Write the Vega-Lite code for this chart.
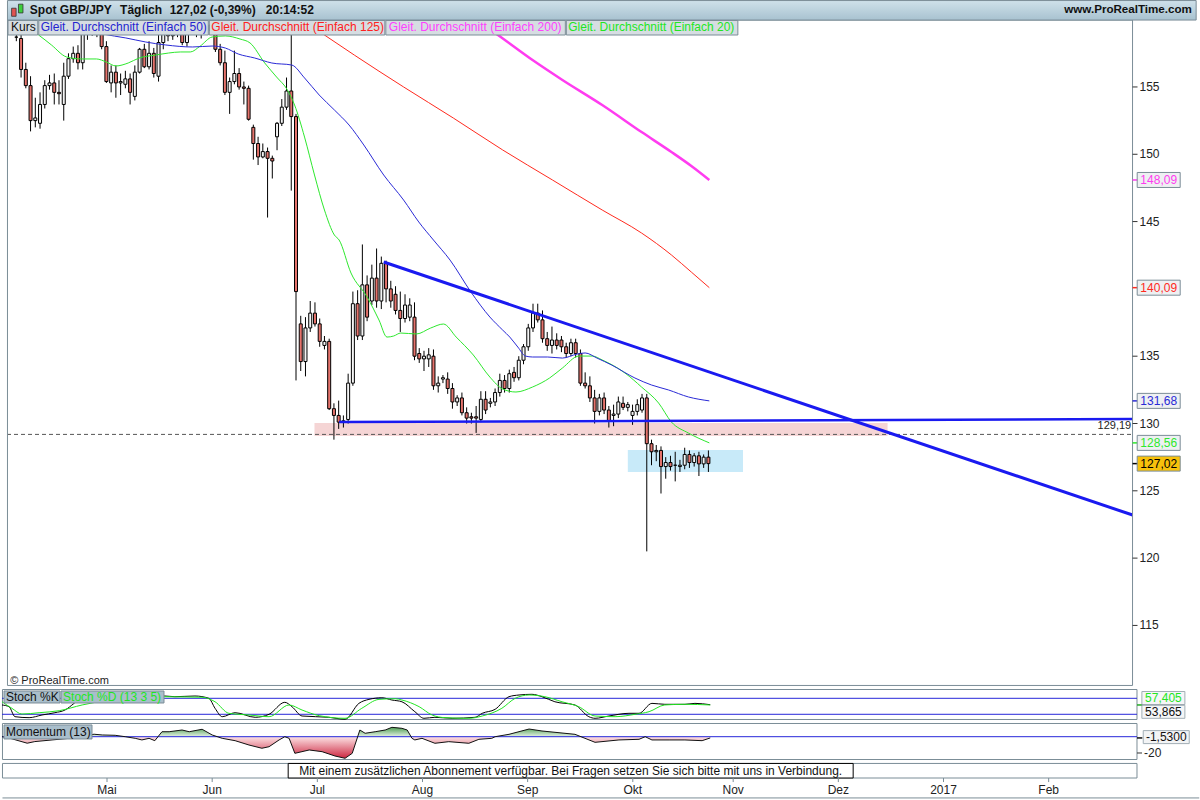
{
"$schema": "https://vega.github.io/schema/vega-lite/v6.json",
"padding": 0,
"background": "white",
"spacing": 3,
"bounds": "flush",
"config": {"view": {"stroke": null}, "font": "Liberation Sans", "text": {"font": "Liberation Sans"}},
"resolve": {"scale": {"x": "independent", "y": "independent", "color": "independent"}},
"datasets": {
"candles": [
{"i":-20,"o":158.7,"h":159.1,"l":158.4,"c":158.7},{"i":-19,"o":158.6,"h":158.9,"l":155.7,"c":156.3},{"i":-18,"o":156.3,"h":156.8,"l":154.9,"c":155.1},{"i":-17,"o":155.1,"h":155.8,"l":151.7,"c":152.5},{"i":-16,"o":152.5,"h":154.2,"l":152.0,"c":152.7},{"i":-15,"o":152.3,"h":154.6,"l":151.9,"c":153.7},{"i":-14,"o":153.7,"h":155.5,"l":153.4,"c":155.1},{"i":-13,"o":155.1,"h":155.9,"l":154.8,"c":155.3},{"i":-12,"o":155.3,"h":156.0,"l":153.7,"c":154.6},{"i":-11,"o":154.6,"h":155.5,"l":153.7,"c":154.5},{"i":-10,"o":153.7,"h":156.8,"l":152.5,"c":155.8},{"i":-9,"o":155.8,"h":157.5,"l":155.6,"c":157.1},{"i":-8,"o":157.1,"h":158.0,"l":156.8,"c":157.5},{"i":-7,"o":157.5,"h":158.1,"l":156.3,"c":156.8},{"i":-6,"o":156.8,"h":159.8,"l":156.3,"c":159.0},{"i":-5,"o":159.0,"h":160.0,"l":158.5,"c":159.5},{"i":-4,"o":159.5,"h":160.0,"l":158.8,"c":159.2},{"i":-3,"o":159.2,"h":160.0,"l":158.7,"c":159.6},{"i":-2,"o":159.6,"h":159.9,"l":157.8,"c":158.0},{"i":-1,"o":158.0,"h":158.4,"l":155.3,"c":155.4},
{"i":0,"o":155.3,"h":156.6,"l":154.6,"c":156.1},{"i":1,"o":156.1,"h":156.6,"l":154.2,"c":155.3},{"i":2,"o":155.3,"h":156.0,"l":154.4,"c":155.4},{"i":3,"o":155.2,"h":156.2,"l":154.9,"c":155.6},{"i":4,"o":155.6,"h":156.0,"l":153.7,"c":154.6},{"i":5,"o":154.3,"h":156.6,"l":154.0,"c":156.1},{"i":6,"o":156.1,"h":157.9,"l":156.0,"c":157.8},{"i":7,"o":157.8,"h":158.2,"l":156.4,"c":156.5},{"i":8,"o":156.5,"h":158.4,"l":156.3,"c":157.5},{"i":9,"o":157.5,"h":157.9,"l":155.7,"c":156.0},{"i":10,"o":155.8,"h":159.0,"l":155.4,"c":158.3},{"i":11,"o":158.3,"h":159.8,"l":157.8,"c":159.2},{"i":12,"o":159.2,"h":159.9,"l":158.4,"c":158.8},{"i":13,"o":158.8,"h":160.0,"l":158.5,"c":159.5},{"i":14,"o":159.5,"h":160.0,"l":158.7,"c":159.0},{"i":15,"o":159.2,"h":159.8,"l":158.1,"c":158.3},{"i":16,"o":158.3,"h":159.6,"l":158.0,"c":159.3},{"i":17,"o":159.3,"h":160.0,"l":158.9,"c":159.6},{"i":18,"o":159.6,"h":160.0,"l":158.7,"c":159.0},{"i":19,"o":159.0,"h":159.9,"l":158.6,"c":159.5},
{"i":20,"o":159.5,"h":160.0,"l":158.9,"c":159.2},{"i":21,"o":159.2,"h":160.0,"l":158.9,"c":159.6},{"i":22,"o":159.5,"h":160.0,"l":157.6,"c":157.8},{"i":23,"o":157.8,"h":158.2,"l":156.6,"c":156.8},{"i":24,"o":156.8,"h":157.7,"l":154.4,"c":154.6},{"i":25,"o":154.6,"h":155.7,"l":153.0,"c":155.4},{"i":26,"o":155.4,"h":157.7,"l":155.2,"c":156.0},{"i":27,"o":156.0,"h":156.4,"l":154.8,"c":155.0},{"i":28,"o":155.0,"h":155.4,"l":153.7,"c":154.9},{"i":29,"o":154.9,"h":155.1,"l":152.5,"c":152.6},{"i":30,"o":152.0,"h":152.2,"l":149.6,"c":150.8},{"i":31,"o":150.8,"h":151.3,"l":149.2,"c":149.8},{"i":32,"o":149.8,"h":150.8,"l":149.7,"c":150.2},{"i":33,"o":150.2,"h":150.5,"l":145.3,"c":149.7},{"i":34,"o":149.7,"h":149.9,"l":148.2,"c":149.5},{"i":35,"o":151.3,"h":152.4,"l":150.3,"c":152.3},{"i":36,"o":152.3,"h":154.1,"l":152.1,"c":153.5},{"i":37,"o":153.5,"h":155.7,"l":153.3,"c":154.7},{"i":38,"o":154.7,"h":159.0,"l":147.3,"c":152.8},{"i":39,"o":152.8,"h":153.0,"l":133.2,"c":139.8},
{"i":40,"o":137.4,"h":138.0,"l":133.9,"c":134.6},{"i":41,"o":134.6,"h":137.9,"l":133.5,"c":137.1},{"i":42,"o":137.1,"h":139.1,"l":136.8,"c":138.2},{"i":43,"o":138.2,"h":139.0,"l":137.2,"c":137.4},{"i":44,"o":137.4,"h":137.8,"l":135.7,"c":136.1},{"i":45,"o":135.8,"h":136.5,"l":135.5,"c":136.1},{"i":46,"o":136.1,"h":136.3,"l":131.0,"c":131.1},{"i":47,"o":131.1,"h":131.5,"l":128.8,"c":130.6},{"i":48,"o":130.6,"h":131.7,"l":129.6,"c":130.1},{"i":49,"o":130.1,"h":130.6,"l":129.7,"c":130.2},{"i":50,"o":130.3,"h":133.7,"l":130.0,"c":133.0},{"i":51,"o":133.0,"h":139.8,"l":132.8,"c":138.9},{"i":52,"o":138.9,"h":139.9,"l":136.2,"c":136.5},{"i":53,"o":136.5,"h":143.3,"l":136.2,"c":140.3},{"i":54,"o":140.3,"h":141.0,"l":137.6,"c":137.9},{"i":55,"o":139.1,"h":141.8,"l":138.8,"c":140.8},{"i":56,"o":140.8,"h":143.0,"l":138.6,"c":139.1},{"i":57,"o":139.1,"h":142.4,"l":138.5,"c":141.9},{"i":58,"o":141.9,"h":142.1,"l":139.0,"c":140.0},{"i":59,"o":140.0,"h":140.6,"l":138.6,"c":139.1},
{"i":60,"o":139.6,"h":140.2,"l":138.1,"c":138.4},{"i":61,"o":138.4,"h":139.8,"l":136.8,"c":137.8},{"i":62,"o":137.8,"h":139.6,"l":137.5,"c":138.8},{"i":63,"o":137.9,"h":139.3,"l":137.6,"c":138.8},{"i":64,"o":137.9,"h":139.0,"l":134.7,"c":135.0},{"i":65,"o":135.2,"h":135.6,"l":134.5,"c":134.8},{"i":66,"o":134.8,"h":135.4,"l":133.9,"c":135.0},{"i":67,"o":134.8,"h":135.6,"l":134.2,"c":135.1},{"i":68,"o":135.0,"h":135.5,"l":132.5,"c":132.8},{"i":69,"o":132.8,"h":133.5,"l":132.3,"c":133.0},{"i":70,"o":133.3,"h":133.6,"l":133.0,"c":133.4},{"i":71,"o":133.3,"h":133.8,"l":132.2,"c":132.6},{"i":72,"o":132.6,"h":133.0,"l":131.1,"c":131.6},{"i":73,"o":131.6,"h":132.1,"l":131.3,"c":131.9},{"i":74,"o":131.9,"h":132.3,"l":130.6,"c":130.8},{"i":75,"o":130.8,"h":131.2,"l":130.0,"c":130.4},{"i":76,"o":130.5,"h":130.8,"l":130.0,"c":130.4},{"i":77,"o":130.5,"h":131.3,"l":129.3,"c":130.4},{"i":78,"o":130.3,"h":132.4,"l":130.1,"c":131.8},{"i":79,"o":131.8,"h":132.4,"l":130.7,"c":131.0},
{"i":80,"o":131.5,"h":131.9,"l":131.2,"c":131.6},{"i":81,"o":131.6,"h":132.6,"l":131.3,"c":132.3},{"i":82,"o":132.3,"h":133.7,"l":132.0,"c":133.2},{"i":83,"o":133.2,"h":133.6,"l":132.3,"c":132.6},{"i":84,"o":132.6,"h":134.0,"l":132.3,"c":133.7},{"i":85,"o":133.8,"h":134.2,"l":133.1,"c":133.4},{"i":86,"o":133.4,"h":135.0,"l":133.2,"c":134.7},{"i":87,"o":134.7,"h":135.9,"l":134.4,"c":135.7},{"i":88,"o":135.7,"h":137.4,"l":135.4,"c":137.1},{"i":89,"o":137.1,"h":138.9,"l":136.8,"c":138.2},{"i":90,"o":138.2,"h":138.9,"l":137.5,"c":137.7},{"i":91,"o":137.7,"h":138.4,"l":136.0,"c":136.3},{"i":92,"o":136.3,"h":136.8,"l":135.4,"c":135.8},{"i":93,"o":135.8,"h":137.2,"l":135.2,"c":136.2},{"i":94,"o":136.2,"h":136.7,"l":135.5,"c":135.8},{"i":95,"o":136.2,"h":136.5,"l":135.3,"c":135.7},{"i":96,"o":135.7,"h":136.0,"l":134.9,"c":135.2},{"i":97,"o":135.2,"h":136.3,"l":135.0,"c":136.0},{"i":98,"o":136.0,"h":136.3,"l":134.9,"c":135.2},{"i":99,"o":135.2,"h":135.5,"l":132.8,"c":133.0},
{"i":100,"o":133.0,"h":133.8,"l":132.6,"c":132.8},{"i":101,"o":132.8,"h":133.5,"l":131.6,"c":131.9},{"i":102,"o":131.9,"h":132.5,"l":130.0,"c":130.9},{"i":103,"o":130.9,"h":132.2,"l":130.6,"c":131.9},{"i":104,"o":131.9,"h":132.3,"l":130.7,"c":131.0},{"i":105,"o":131.0,"h":131.3,"l":129.7,"c":130.2},{"i":106,"o":130.6,"h":131.4,"l":129.8,"c":130.7},{"i":107,"o":130.7,"h":132.0,"l":130.4,"c":131.6},{"i":108,"o":131.5,"h":132.0,"l":131.0,"c":131.2},{"i":109,"o":131.2,"h":131.6,"l":130.9,"c":131.4},{"i":110,"o":130.6,"h":131.4,"l":129.9,"c":130.9},{"i":111,"o":130.9,"h":131.8,"l":130.6,"c":131.4},{"i":112,"o":131.0,"h":132.2,"l":130.8,"c":131.9},{"i":113,"o":131.9,"h":132.2,"l":120.5,"c":128.5},{"i":114,"o":128.5,"h":128.8,"l":126.9,"c":127.9},{"i":115,"o":127.9,"h":128.4,"l":127.2,"c":128.0},{"i":116,"o":128.0,"h":128.3,"l":124.8,"c":126.8},{"i":117,"o":126.8,"h":127.5,"l":125.9,"c":127.1},{"i":118,"o":127.1,"h":127.6,"l":126.5,"c":126.8},{"i":119,"o":126.9,"h":127.9,"l":125.7,"c":126.9},
{"i":120,"o":126.8,"h":127.3,"l":126.4,"c":126.9},{"i":121,"o":126.9,"h":128.2,"l":126.6,"c":127.7},{"i":122,"o":127.7,"h":128.0,"l":126.7,"c":127.1},{"i":123,"o":127.1,"h":127.8,"l":126.8,"c":127.6},{"i":124,"o":127.6,"h":127.9,"l":126.1,"c":127.0},{"i":125,"o":127.0,"h":127.7,"l":126.7,"c":127.5},{"i":126,"o":127.5,"h":128.0,"l":126.4,"c":127.02}
],
"ma": [
{"s":"SMA20","i":-17.8,"v":159.45},{"s":"SMA20","i":-15.3,"v":158.86},{"s":"SMA20","i":-12.6,"v":158.12},{"s":"SMA20","i":-9.4,"v":157.23},{"s":"SMA20","i":-6.3,"v":157.08},{"s":"SMA20","i":-3.1,"v":157.08},{"s":"SMA20","i":-1.0,"v":156.85},{"s":"SMA20","i":1.0,"v":156.56},{"s":"SMA20","i":3.6,"v":156.78},{"s":"SMA20","i":5.9,"v":157.15},{"s":"SMA20","i":9.4,"v":157.37},{"s":"SMA20","i":12.1,"v":157.52},{"s":"SMA20","i":14.6,"v":157.6},{"s":"SMA20","i":16.7,"v":157.6},{"s":"SMA20","i":18.8,"v":158.04},{"s":"SMA20","i":21.3,"v":158.71},{"s":"SMA20","i":24.1,"v":158.79},{"s":"SMA20","i":27.2,"v":158.56},{"s":"SMA20","i":29.3,"v":158.27},{"s":"SMA20","i":32.4,"v":156.78},{"s":"SMA20","i":34.9,"v":155.74},{"s":"SMA20","i":37.2,"v":154.77},{"s":"SMA20","i":38.7,"v":153.66},{"s":"SMA20","i":40.8,"v":151.28},{"s":"SMA20","i":42.9,"v":148.46},{"s":"SMA20","i":45.0,"v":145.86},{"s":"SMA20","i":47.1,"v":144.0},{"s":"SMA20","i":48.1,"v":143.63},{"s":"SMA20","i":50.6,"v":141.18},{"s":"SMA20","i":54.0,"v":139.4},{"s":"SMA20","i":56.5,"v":137.69},{"s":"SMA20","i":58.2,"v":136.42},{"s":"SMA20","i":59.6,"v":136.5},{"s":"SMA20","i":61.1,"v":136.72},{"s":"SMA20","i":64.4,"v":136.65},{"s":"SMA20","i":67.4,"v":137.09},{"s":"SMA20","i":70.1,"v":137.39},{"s":"SMA20","i":72.8,"v":136.42},{"s":"SMA20","i":76.4,"v":135.09},{"s":"SMA20","i":79.9,"v":133.45},{"s":"SMA20","i":82.6,"v":132.56},{"s":"SMA20","i":85.4,"v":132.34},{"s":"SMA20","i":88.9,"v":132.71},{"s":"SMA20","i":92.5,"v":133.38},{"s":"SMA20","i":95.2,"v":134.12},{"s":"SMA20","i":98.7,"v":135.01},{"s":"SMA20","i":101.5,"v":135.01},{"s":"SMA20","i":103.6,"v":134.72},{"s":"SMA20","i":108.4,"v":133.75},{"s":"SMA20","i":111.9,"v":132.71},{"s":"SMA20","i":115.5,"v":131.52},{"s":"SMA20","i":118.2,"v":130.11},{"s":"SMA20","i":121.8,"v":129.29},{"s":"SMA20","i":126.2,"v":128.56},
{"s":"SMA50","i":-5.2,"v":159.23},{"s":"SMA50","i":-1.7,"v":158.93},{"s":"SMA50","i":3.1,"v":158.64},{"s":"SMA50","i":7.3,"v":158.34},{"s":"SMA50","i":11.5,"v":158.12},{"s":"SMA50","i":17.2,"v":157.97},{"s":"SMA50","i":21.3,"v":158.04},{"s":"SMA50","i":24.1,"v":157.89},{"s":"SMA50","i":26.8,"v":157.45},{"s":"SMA50","i":30.3,"v":157.15},{"s":"SMA50","i":33.9,"v":156.78},{"s":"SMA50","i":38.1,"v":156.63},{"s":"SMA50","i":40.8,"v":155.67},{"s":"SMA50","i":43.9,"v":154.4},{"s":"SMA50","i":47.1,"v":153.29},{"s":"SMA50","i":50.2,"v":152.17},{"s":"SMA50","i":53.3,"v":150.69},{"s":"SMA50","i":57.5,"v":148.46},{"s":"SMA50","i":61.7,"v":146.6},{"s":"SMA50","i":64.9,"v":144.97},{"s":"SMA50","i":68.0,"v":143.63},{"s":"SMA50","i":71.5,"v":142.14},{"s":"SMA50","i":75.9,"v":139.77},{"s":"SMA50","i":79.9,"v":137.91},{"s":"SMA50","i":82.6,"v":136.94},{"s":"SMA50","i":84.1,"v":136.42},{"s":"SMA50","i":85.8,"v":135.68},{"s":"SMA50","i":87.4,"v":135.01},{"s":"SMA50","i":88.9,"v":134.94},{"s":"SMA50","i":92.1,"v":134.94},{"s":"SMA50","i":95.2,"v":134.86},{"s":"SMA50","i":98.3,"v":135.16},{"s":"SMA50","i":100.0,"v":135.24},{"s":"SMA50","i":102.5,"v":134.86},{"s":"SMA50","i":105.6,"v":134.34},{"s":"SMA50","i":110.5,"v":133.38},{"s":"SMA50","i":114.0,"v":132.86},{"s":"SMA50","i":117.6,"v":132.49},{"s":"SMA50","i":121.8,"v":131.97},{"s":"SMA50","i":126.2,"v":131.68},
{"s":"SMA125","i":40.8,"v":159.83},{"s":"SMA125","i":45.0,"v":158.86},{"s":"SMA125","i":51.3,"v":157.37},{"s":"SMA125","i":61.7,"v":155.0},{"s":"SMA125","i":72.2,"v":152.69},{"s":"SMA125","i":82.6,"v":150.32},{"s":"SMA125","i":93.1,"v":148.09},{"s":"SMA125","i":103.6,"v":145.86},{"s":"SMA125","i":111.9,"v":144.15},{"s":"SMA125","i":118.2,"v":142.52},{"s":"SMA125","i":122.4,"v":141.25},{"s":"SMA125","i":126.2,"v":140.09},
{"s":"SMA200","i":79.5,"v":159.38},{"s":"SMA200","i":81.6,"v":158.86},{"s":"SMA200","i":88.9,"v":157.0},{"s":"SMA200","i":95.2,"v":155.52},{"s":"SMA200","i":103.6,"v":153.66},{"s":"SMA200","i":111.9,"v":151.65},{"s":"SMA200","i":118.2,"v":150.17},{"s":"SMA200","i":122.4,"v":149.13},{"s":"SMA200","i":126.2,"v":148.09}
],
"trend": [
{"t":"down","i":57.5,"v":142.0},{"t":"down","i":215.5,"v":123.2},
{"t":"flat","i":48.1,"v":130.11},{"t":"flat","i":215.5,"v":130.33}
],
"last": [
{"s":"SMA200","v":148.09,"t":"148,09"},{"s":"SMA125","v":140.09,"t":"140,09"},{"s":"SMA50","v":131.68,"t":"131,68"},{"s":"SMA20","v":128.56,"t":"128,56"},{"s":"Kurs","v":127.02,"t":"127,02"}
],
"yticks": [{"v":115},{"v":120},{"v":125},{"v":130},{"v":135},{"v":145},{"v":150},{"v":155}],
"months": [{"m":"Mai","i":0},{"m":"Jun","i":22},{"m":"Jul","i":44},{"m":"Aug","i":66},{"m":"Sep","i":88},{"m":"Okt","i":110},{"m":"Nov","i":131},{"m":"Dez","i":153},{"m":"2017","i":175},{"m":"Feb","i":197}],
"stoch": [
{"s":"K","i":-21.97,"v":54.9},{"s":"K","i":-20.5,"v":48.5},{"s":"K","i":-19.25,"v":11},{"s":"K","i":-16.3,"v":7.3},{"s":"K","i":-13.6,"v":17.4},{"s":"K","i":-10.9,"v":26},{"s":"K","i":-8.8,"v":36},{"s":"K","i":-6.9,"v":61},{"s":"K","i":-5.2,"v":86},{"s":"K","i":3.1,"v":90},{"s":"K","i":7.3,"v":88},{"s":"K","i":12.1,"v":88.6},{"s":"K","i":14.2,"v":86},{"s":"K","i":18.4,"v":88.6},{"s":"K","i":21.3,"v":80},{"s":"K","i":22.6,"v":42.5},{"s":"K","i":24.1,"v":11},{"s":"K","i":26.8,"v":26},{"s":"K","i":31.0,"v":8.7},{"s":"K","i":33.9,"v":20},{"s":"K","i":37.2,"v":65},{"s":"K","i":38.7,"v":48.5},{"s":"K","i":40.8,"v":13.6},{"s":"K","i":46.4,"v":8.7},{"s":"K","i":49.8,"v":1.3},{"s":"K","i":52.7,"v":61},{"s":"K","i":54.8,"v":76},{"s":"K","i":57.5,"v":82},{"s":"K","i":59.6,"v":73.6},{"s":"K","i":61.7,"v":67},{"s":"K","i":64.4,"v":29.8},{"s":"K","i":66.3,"v":5},{"s":"K","i":68.6,"v":8.7},{"s":"K","i":72.2,"v":5},{"s":"K","i":77.0,"v":8.7},{"s":"K","i":78.5,"v":23.7},{"s":"K","i":81.2,"v":38.7},{"s":"K","i":84.1,"v":86},{"s":"K","i":86.2,"v":92.4},{"s":"K","i":88.9,"v":95},{"s":"K","i":91.0,"v":86},{"s":"K","i":93.7,"v":67},{"s":"K","i":97.9,"v":54.9},{"s":"K","i":100.8,"v":11},{"s":"K","i":102.1,"v":5},{"s":"K","i":105.0,"v":13.6},{"s":"K","i":109.2,"v":23.7},{"s":"K","i":111.3,"v":23.7},{"s":"K","i":114.0,"v":61},{"s":"K","i":116.7,"v":57.5},{"s":"K","i":120.9,"v":57.5},{"s":"K","i":123.0,"v":61},{"s":"K","i":126.2,"v":56},
{"s":"D","i":-21.97,"v":67},{"s":"D","i":-19.9,"v":42.5},{"s":"D","i":-17.8,"v":21},{"s":"D","i":-14.2,"v":26},{"s":"D","i":-10.0,"v":33.5},{"s":"D","i":-5.2,"v":55},{"s":"D","i":1.0,"v":75},{"s":"D","i":7.3,"v":85},{"s":"D","i":11.5,"v":86},{"s":"D","i":16.7,"v":85},{"s":"D","i":19.9,"v":84},{"s":"D","i":22.6,"v":67},{"s":"D","i":25.5,"v":23.7},{"s":"D","i":29.7,"v":17.4},{"s":"D","i":33.9,"v":11},{"s":"D","i":38.1,"v":55},{"s":"D","i":40.8,"v":36},{"s":"D","i":44.4,"v":14.8},{"s":"D","i":49.8,"v":5},{"s":"D","i":53.3,"v":42.5},{"s":"D","i":56.9,"v":76},{"s":"D","i":60.3,"v":78.5},{"s":"D","i":61.7,"v":73.6},{"s":"D","i":65.3,"v":48.5},{"s":"D","i":68.0,"v":17.4},{"s":"D","i":70.7,"v":7.3},{"s":"D","i":75.7,"v":5},{"s":"D","i":78.5,"v":13.6},{"s":"D","i":82.6,"v":42.5},{"s":"D","i":85.4,"v":80},{"s":"D","i":88.3,"v":92.4},{"s":"D","i":91.6,"v":86},{"s":"D","i":95.2,"v":67},{"s":"D","i":98.7,"v":48.5},{"s":"D","i":102.1,"v":13.6},{"s":"D","i":106.3,"v":11},{"s":"D","i":110.5,"v":20},{"s":"D","i":113.4,"v":29.8},{"s":"D","i":116.7,"v":55},{"s":"D","i":120.9,"v":57.5},{"s":"D","i":126.2,"v":55}
],
"mom": [
{"i":-21.97,"v":0},{"i":-20.5,"v":-1.6},{"i":-16.7,"v":-8},{"i":-15.1,"v":-6},{"i":-11.5,"v":-4},{"i":-7.9,"v":-2},{"i":-5.2,"v":1},{"i":-2.7,"v":3},{"i":-1.0,"v":2.1},{"i":1.7,"v":1.7},{"i":3.8,"v":0},{"i":5.9,"v":-2},{"i":7.3,"v":-4},{"i":8.8,"v":-2},{"i":10.0,"v":-4.9},{"i":11.5,"v":6.1},{"i":13.0,"v":6.1},{"i":15.7,"v":8.2},{"i":17.2,"v":6.1},{"i":19.9,"v":9.1},{"i":22.0,"v":2.1},{"i":24.1,"v":-2},{"i":26.8,"v":-4.9},{"i":29.7,"v":-10.2},{"i":32.4,"v":-14.2},{"i":33.9,"v":-12.3},{"i":36.0,"v":-4},{"i":37.2,"v":0},{"i":38.1,"v":-2},{"i":39.3,"v":-20.4},{"i":42.3,"v":-16.3},{"i":45.0,"v":-18.4},{"i":47.7,"v":-23.7},{"i":49.8,"v":-26.5},{"i":51.3,"v":-20.4},{"i":52.9,"v":8.2},{"i":54.0,"v":4.2},{"i":56.1,"v":6.1},{"i":58.2,"v":8.2},{"i":59.6,"v":11.5},{"i":61.7,"v":10.3},{"i":62.8,"v":8.2},{"i":63.8,"v":-2},{"i":64.4,"v":-4},{"i":65.9,"v":-2},{"i":68.6,"v":-8.1},{"i":71.5,"v":-6.1},{"i":75.7,"v":-8.1},{"i":77.8,"v":-3.2},{"i":80.5,"v":-2},{"i":81.2,"v":0},{"i":84.1,"v":2.9},{"i":88.3,"v":9.4},{"i":91.0,"v":7},{"i":97.9,"v":2.9},{"i":102.1,"v":-6.9},{"i":107.1,"v":-4},{"i":111.3,"v":-3.2},{"i":112.6,"v":0},{"i":114.0,"v":-4},{"i":117.6,"v":-4},{"i":120.9,"v":-4},{"i":124.5,"v":-4.9},{"i":126.2,"v":-1.53}
]
},
"vconcat": [
{
"width": 1200, "height": 686,
"layer": [
{"data": {"values": [{}]}, "mark": {"type": "rect", "color": "#f5d5d5"},
 "encoding": {"x": {"datum": 42.9, "type": "quantitative", "scale": {"domain": [-21.97, 229.08], "nice": false, "zero": false}, "axis": null}, "x2": {"datum": 163.8},
  "y": {"datum": 130.04, "type": "quantitative", "scale": {"domain": [110.5, 161.46], "nice": false, "zero": false}, "axis": null}, "y2": {"datum": 129.07}}},
{"data": {"values": [{}]}, "mark": {"type": "rect", "color": "#c8eaf9"},
 "encoding": {"x": {"datum": 109.0, "type": "quantitative", "axis": null}, "x2": {"datum": 133.3}, "y": {"datum": 128.03, "type": "quantitative", "axis": null}, "y2": {"datum": 126.39}}},
{"data": {"values": [{}]}, "mark": {"type": "rule", "color": "#555555", "strokeDash": [4, 3], "strokeWidth": 1},
 "encoding": {"x": {"datum": -21.97, "type": "quantitative", "axis": null}, "x2": {"datum": 215.48}, "y": {"datum": 129.19, "type": "quantitative", "axis": null}}},
{"data": {"name": "candles"}, "mark": {"type": "rule", "color": "#000000", "strokeWidth": 1},
 "encoding": {"x": {"field": "i", "type": "quantitative", "axis": null}, "y": {"field": "l", "type": "quantitative", "axis": null}, "y2": {"field": "h"}}},
{"data": {"name": "candles"}, "mark": {"type": "bar", "size": 3, "stroke": "#000000", "strokeWidth": 1},
 "encoding": {"x": {"field": "i", "type": "quantitative", "axis": null}, "y": {"field": "o", "type": "quantitative", "axis": null}, "y2": {"field": "c"},
  "fill": {"condition": {"test": "datum.c < datum.o", "value": "#e5736c"}, "value": "#f4f4f4"}}},
{"data": {"name": "ma"}, "mark": {"type": "line", "interpolate": "monotone"},
 "encoding": {"x": {"field": "i", "type": "quantitative", "axis": null}, "y": {"field": "v", "type": "quantitative", "axis": null},
  "color": {"field": "s", "type": "nominal", "scale": {"domain": ["Kurs","SMA50","SMA125","SMA200","SMA20"], "range": ["#000000","#2a2ad6","#ff2a1e","#ff3cf0","#2ee82e"]}, "legend": null},
  "strokeWidth": {"condition": {"test": "datum.s == 'SMA200'", "value": 2.5}, "value": 1}}},
{"data": {"name": "trend"}, "transform": [{"filter": "datum.t == 'down'"}], "mark": {"type": "line", "color": "#1a1af0", "strokeWidth": 3},
 "encoding": {"x": {"field": "i", "type": "quantitative", "axis": null}, "y": {"field": "v", "type": "quantitative", "axis": null}}},
{"data": {"name": "trend"}, "transform": [{"filter": "datum.t == 'flat'"}], "mark": {"type": "line", "color": "#1a1af0", "strokeWidth": 2.5},
 "encoding": {"x": {"field": "i", "type": "quantitative", "axis": null}, "y": {"field": "v", "type": "quantitative", "axis": null}}},
{"data": {"values": [{}]}, "mark": {"type": "text", "text": "129,19", "align": "right", "baseline": "middle", "dy": -8, "fontSize": 11, "color": "#222222"},
 "encoding": {"x": {"datum": 215.2, "type": "quantitative", "axis": null}, "y": {"datum": 129.19, "type": "quantitative", "axis": null}}},
{"data": {"values": [{}]}, "mark": {"type": "text", "text": "© ProRealTime.com", "align": "left", "baseline": "middle", "fontSize": 11, "color": "#222222"},
 "encoding": {"x": {"datum": -21.3, "type": "quantitative", "axis": null}, "y": {"datum": 110.87, "type": "quantitative", "axis": null}}},
{"data": {"values": [{}]}, "mark": {"type": "rect", "fill": "transparent", "stroke": "#7b8d97", "strokeWidth": 1},
 "encoding": {"x": {"datum": -21.87, "type": "quantitative", "axis": null}, "x2": {"datum": 215.48}, "y": {"datum": 159.97, "type": "quantitative", "axis": null}, "y2": {"datum": 110.54}}},
{"data": {"name": "yticks"}, "mark": {"type": "rule", "color": "#333333", "strokeWidth": 1},
 "encoding": {"x": {"datum": 215.48, "type": "quantitative", "axis": null}, "x2": {"datum": 216.53}, "y": {"field": "v", "type": "quantitative", "axis": null}}},
{"data": {"name": "yticks"}, "mark": {"type": "text", "align": "left", "baseline": "middle", "fontSize": 12, "color": "#222222"},
 "encoding": {"x": {"datum": 216.95, "type": "quantitative", "axis": null}, "y": {"field": "v", "type": "quantitative", "axis": null}, "text": {"field": "v", "type": "quantitative", "format": "d"},
  "fontWeight": {"condition": {"test": "datum.v == 150", "value": "bold"}, "value": "normal"}}},
{"data": {"values": [{}]}, "mark": {"type": "rect", "stroke": "#7b8d97", "strokeWidth": 1, "fill": {"gradient": "linear", "x1": 0, "y1": 0, "x2": 0, "y2": 1, "stops": [{"offset": 0, "color": "#cfe1ea"}, {"offset": 1, "color": "#a8c2d0"}]}},
 "encoding": {"x": {"datum": -21.87, "type": "quantitative", "axis": null}, "x2": {"datum": 228.9}, "y": {"datum": 161.42, "type": "quantitative", "axis": null}, "y2": {"datum": 159.97}}},
{"data": {"values": [{}]}, "mark": {"type": "rect", "color": "#e0534f", "stroke": "#333333", "strokeWidth": 0.8},
 "encoding": {"x": {"datum": -21.0, "type": "quantitative", "axis": null}, "x2": {"datum": -20.05}, "y": {"datum": 160.85, "type": "quantitative", "axis": null}, "y2": {"datum": 160.25}}},
{"data": {"values": [{}]}, "mark": {"type": "rect", "color": "#3ccf3c", "stroke": "#333333", "strokeWidth": 0.8},
 "encoding": {"x": {"datum": -19.55, "type": "quantitative", "axis": null}, "x2": {"datum": -18.6}, "y": {"datum": 161.15, "type": "quantitative", "axis": null}, "y2": {"datum": 160.5}}},
{"data": {"values": [{}]}, "mark": {"type": "text", "text": "Spot GBP/JPY", "align": "left", "baseline": "middle", "fontSize": 12, "fontWeight": "bold", "color": "#111111"},
 "encoding": {"x": {"datum": -17.15, "type": "quantitative", "axis": null}, "y": {"datum": 160.72, "type": "quantitative", "axis": null}}},
{"data": {"values": [{}]}, "mark": {"type": "text", "text": "Täglich", "align": "left", "baseline": "middle", "fontSize": 12, "fontWeight": "bold", "color": "#111111"},
 "encoding": {"x": {"datum": 1.88, "type": "quantitative", "axis": null}, "y": {"datum": 160.72, "type": "quantitative", "axis": null}}},
{"data": {"values": [{}]}, "mark": {"type": "text", "text": "127,02 (-0,39%)", "align": "left", "baseline": "middle", "fontSize": 12, "fontWeight": "bold", "color": "#111111"},
 "encoding": {"x": {"datum": 12.34, "type": "quantitative", "axis": null}, "y": {"datum": 160.72, "type": "quantitative", "axis": null}}},
{"data": {"values": [{}]}, "mark": {"type": "text", "text": "20:14:52", "align": "left", "baseline": "middle", "fontSize": 12, "fontWeight": "bold", "color": "#111111"},
 "encoding": {"x": {"datum": 32.64, "type": "quantitative", "axis": null}, "y": {"datum": 160.72, "type": "quantitative", "axis": null}}},
{"data": {"values": [{}]}, "mark": {"type": "text", "text": "www.ProRealTime.com", "align": "right", "baseline": "middle", "fontSize": 11.6, "fontWeight": "bold", "color": "#111111"},
 "encoding": {"x": {"datum": 228.0, "type": "quantitative", "axis": null}, "y": {"datum": 160.72, "type": "quantitative", "axis": null}}},
{"data": {"values": [{}]}, "mark": {"type": "rect", "color": "#d6dde2", "stroke": "#7b8d97", "strokeWidth": 1},
 "encoding": {"x": {"datum": -21.76, "type": "quantitative", "axis": null}, "x2": {"datum": -15.48}, "y": {"datum": 159.94, "type": "quantitative", "axis": null}, "y2": {"datum": 158.86}}},
{"data": {"values": [{}]}, "mark": {"type": "rect", "color": "#d6dde2", "stroke": "#7b8d97", "strokeWidth": 1},
 "encoding": {"x": {"datum": -15.27, "type": "quantitative", "axis": null}, "x2": {"datum": 20.5}, "y": {"datum": 159.94, "type": "quantitative", "axis": null}, "y2": {"datum": 158.86}}},
{"data": {"values": [{}]}, "mark": {"type": "rect", "color": "#d6dde2", "stroke": "#7b8d97", "strokeWidth": 1},
 "encoding": {"x": {"datum": 20.71, "type": "quantitative", "axis": null}, "x2": {"datum": 57.74}, "y": {"datum": 159.94, "type": "quantitative", "axis": null}, "y2": {"datum": 158.86}}},
{"data": {"values": [{}]}, "mark": {"type": "rect", "color": "#d6dde2", "stroke": "#7b8d97", "strokeWidth": 1},
 "encoding": {"x": {"datum": 57.95, "type": "quantitative", "axis": null}, "x2": {"datum": 95.82}, "y": {"datum": 159.94, "type": "quantitative", "axis": null}, "y2": {"datum": 158.86}}},
{"data": {"values": [{}]}, "mark": {"type": "rect", "color": "#d6dde2", "stroke": "#7b8d97", "strokeWidth": 1},
 "encoding": {"x": {"datum": 96.03, "type": "quantitative", "axis": null}, "x2": {"datum": 132.22}, "y": {"datum": 159.94, "type": "quantitative", "axis": null}, "y2": {"datum": 158.86}}},
{"data": {"values": [{}]}, "mark": {"type": "text", "text": "Kurs", "align": "left", "baseline": "middle", "fontSize": 12, "color": "#111111"},
 "encoding": {"x": {"datum": -21.13, "type": "quantitative", "axis": null}, "y": {"datum": 159.42, "type": "quantitative", "axis": null}}},
{"data": {"values": [{}]}, "mark": {"type": "text", "text": "Gleit. Durchschnitt (Einfach 50)", "align": "left", "baseline": "middle", "fontSize": 12, "color": "#2424d0"},
 "encoding": {"x": {"datum": -14.85, "type": "quantitative", "axis": null}, "y": {"datum": 159.42, "type": "quantitative", "axis": null}}},
{"data": {"values": [{}]}, "mark": {"type": "text", "text": "Gleit. Durchschnitt (Einfach 125)", "align": "left", "baseline": "middle", "fontSize": 12, "color": "#ff2020"},
 "encoding": {"x": {"datum": 21.13, "type": "quantitative", "axis": null}, "y": {"datum": 159.42, "type": "quantitative", "axis": null}}},
{"data": {"values": [{}]}, "mark": {"type": "text", "text": "Gleit. Durchschnitt (Einfach 200)", "align": "left", "baseline": "middle", "fontSize": 12, "color": "#ff40ff"},
 "encoding": {"x": {"datum": 58.58, "type": "quantitative", "axis": null}, "y": {"datum": 159.42, "type": "quantitative", "axis": null}}},
{"data": {"values": [{}]}, "mark": {"type": "text", "text": "Gleit. Durchschnitt (Einfach 20)", "align": "left", "baseline": "middle", "fontSize": 12, "color": "#22e622"},
 "encoding": {"x": {"datum": 96.44, "type": "quantitative", "axis": null}, "y": {"datum": 159.42, "type": "quantitative", "axis": null}}},
{"data": {"name": "last"}, "mark": {"type": "rule", "strokeWidth": 1.5},
 "encoding": {"x": {"datum": 215.48, "type": "quantitative", "axis": null}, "x2": {"datum": 216.6}, "y": {"field": "v", "type": "quantitative", "axis": null},
  "color": {"field": "s", "type": "nominal", "legend": null}}},
{"data": {"name": "last"}, "mark": {"type": "tick", "orient": "horizontal", "size": 43, "thickness": 15, "stroke": "#7b8d97", "strokeWidth": 1, "opacity": 1},
 "encoding": {"x": {"datum": 221.0, "type": "quantitative", "axis": null}, "y": {"field": "v", "type": "quantitative", "axis": null},
  "fill": {"condition": {"test": "datum.s == 'Kurs'", "value": "#f7c10c"}, "value": "#eef0f2"}}},
{"data": {"name": "last"}, "mark": {"type": "text", "align": "center", "baseline": "middle", "fontSize": 12},
 "encoding": {"x": {"datum": 221.0, "type": "quantitative", "axis": null}, "y": {"field": "v", "type": "quantitative", "axis": null}, "text": {"field": "t"},
  "color": {"field": "s", "type": "nominal", "legend": null}}}
]
},
{
"width": 1200, "height": 31,
"layer": [
{"data": {"values": [{}]}, "mark": {"type": "rect", "fill": "transparent", "stroke": "#7b8d97", "strokeWidth": 1},
 "encoding": {"x": {"datum": -21.87, "type": "quantitative", "scale": {"domain": [-21.97, 229.08], "nice": false, "zero": false}, "axis": null}, "x2": {"datum": 215.48},
  "y": {"datum": 113.0, "type": "quantitative", "scale": {"domain": [-1.4, 114.9], "nice": false, "zero": false}, "axis": null}, "y2": {"datum": 0.5}}},
{"data": {"values": [{"lvl": 80}, {"lvl": 20}]}, "mark": {"type": "rule", "color": "#2727d9", "strokeWidth": 1},
 "encoding": {"x": {"datum": -21.97, "type": "quantitative", "axis": null}, "x2": {"datum": 215.48}, "y": {"field": "lvl", "type": "quantitative", "axis": null}}},
{"data": {"name": "stoch"}, "mark": {"type": "line", "strokeWidth": 1, "interpolate": "monotone"},
 "encoding": {"x": {"field": "i", "type": "quantitative", "axis": null}, "y": {"field": "v", "type": "quantitative", "axis": null},
  "color": {"field": "s", "type": "nominal", "scale": {"domain": ["K", "D"], "range": ["#000000", "#22e622"]}, "legend": null}}},
{"data": {"values": [{}]}, "mark": {"type": "rect", "color": "#a9becb", "stroke": "#7b8d97", "strokeWidth": 1},
 "encoding": {"x": {"datum": -21.55, "type": "quantitative", "axis": null}, "x2": {"datum": -9.83}, "y": {"datum": 107.4, "type": "quantitative", "axis": null}, "y2": {"datum": 62.4}}},
{"data": {"values": [{}]}, "mark": {"type": "rect", "color": "#a9becb", "stroke": "#7b8d97", "strokeWidth": 1},
 "encoding": {"x": {"datum": -9.62, "type": "quantitative", "axis": null}, "x2": {"datum": 11.92}, "y": {"datum": 107.4, "type": "quantitative", "axis": null}, "y2": {"datum": 62.4}}},
{"data": {"values": [{}]}, "mark": {"type": "text", "text": "Stoch %K", "align": "left", "baseline": "middle", "fontSize": 12, "color": "#111111"},
 "encoding": {"x": {"datum": -21.13, "type": "quantitative", "axis": null}, "y": {"datum": 84.9, "type": "quantitative", "axis": null}}},
{"data": {"values": [{}]}, "mark": {"type": "text", "text": "Stoch %D (13 3 5)", "align": "left", "baseline": "middle", "fontSize": 12, "color": "#22e622"},
 "encoding": {"x": {"datum": -9.2, "type": "quantitative", "axis": null}, "y": {"datum": 84.9, "type": "quantitative", "axis": null}}},
{"data": {"values": [{}]}, "mark": {"type": "rule", "color": "#22aa22", "strokeWidth": 1.5},
 "encoding": {"x": {"datum": 215.48, "type": "quantitative", "axis": null}, "x2": {"datum": 216.6}, "y": {"datum": 55, "type": "quantitative", "axis": null}}},
{"data": {"values": [{}]}, "mark": {"type": "tick", "orient": "horizontal", "size": 43, "thickness": 13, "color": "#f2f3f4", "stroke": "#7b8d97", "strokeWidth": 1},
 "encoding": {"x": {"datum": 221.0, "type": "quantitative", "axis": null}, "y": {"datum": 81.1, "type": "quantitative", "axis": null}}},
{"data": {"values": [{}]}, "mark": {"type": "tick", "orient": "horizontal", "size": 43, "thickness": 13, "color": "#f2f3f4", "stroke": "#7b8d97", "strokeWidth": 1},
 "encoding": {"x": {"datum": 221.0, "type": "quantitative", "axis": null}, "y": {"datum": 29.3, "type": "quantitative", "axis": null}}},
{"data": {"values": [{}]}, "mark": {"type": "text", "text": "57,405", "align": "center", "baseline": "middle", "fontSize": 12, "color": "#22e622"},
 "encoding": {"x": {"datum": 221.0, "type": "quantitative", "axis": null}, "y": {"datum": 81.1, "type": "quantitative", "axis": null}}},
{"data": {"values": [{}]}, "mark": {"type": "text", "text": "53,865", "align": "center", "baseline": "middle", "fontSize": 12, "color": "#111111"},
 "encoding": {"x": {"datum": 221.0, "type": "quantitative", "axis": null}, "y": {"datum": 29.3, "type": "quantitative", "axis": null}}}
]
},
{
"width": 1200, "height": 37,
"layer": [
{"data": {"name": "mom"}, "mark": {"type": "area", "fill": {"gradient": "linear", "x1": 0, "y1": 0, "x2": 0, "y2": 1, "stops": [{"offset": 0, "color": "#4f9e52"}, {"offset": 0.3, "color": "#e4f1e4"}, {"offset": 0.303, "color": "#fde3e5"}, {"offset": 1, "color": "#cc2640"}]}},
 "encoding": {"x": {"field": "i", "type": "quantitative", "scale": {"domain": [-21.97, 229.08], "nice": false, "zero": false}, "axis": null},
  "y": {"field": "v", "type": "quantitative", "scale": {"domain": [-28.6, 16.8], "nice": false, "zero": false}, "axis": null},
  "y2": {"datum": 0}}},
{"data": {"values": [{}]}, "mark": {"type": "rect", "fill": "transparent", "stroke": "#7b8d97", "strokeWidth": 1},
 "encoding": {"x": {"datum": -21.87, "type": "quantitative", "axis": null}, "x2": {"datum": 215.48}, "y": {"datum": 16.2, "type": "quantitative", "axis": null}, "y2": {"datum": -28.0}}},
{"data": {"values": [{}]}, "mark": {"type": "rule", "color": "#2727d9", "strokeWidth": 1},
 "encoding": {"x": {"datum": -21.97, "type": "quantitative", "axis": null}, "x2": {"datum": 215.48}, "y": {"datum": 0, "type": "quantitative", "axis": null}}},
{"data": {"name": "mom"}, "mark": {"type": "line", "color": "#111111", "strokeWidth": 1},
 "encoding": {"x": {"field": "i", "type": "quantitative", "axis": null}, "y": {"field": "v", "type": "quantitative", "axis": null}}},
{"data": {"values": [{}]}, "mark": {"type": "rect", "color": "#a9becb", "stroke": "#7b8d97", "strokeWidth": 1},
 "encoding": {"x": {"datum": -21.55, "type": "quantitative", "axis": null}, "x2": {"datum": -3.14}, "y": {"datum": 14.4, "type": "quantitative", "axis": null}, "y2": {"datum": -2.8}}},
{"data": {"values": [{}]}, "mark": {"type": "text", "text": "Momentum (13)", "align": "left", "baseline": "middle", "fontSize": 12, "color": "#111111"},
 "encoding": {"x": {"datum": -21.13, "type": "quantitative", "axis": null}, "y": {"datum": 5.8, "type": "quantitative", "axis": null}}},
{"data": {"values": [{}]}, "mark": {"type": "rule", "color": "#111111", "strokeWidth": 1.5},
 "encoding": {"x": {"datum": 215.48, "type": "quantitative", "axis": null}, "x2": {"datum": 216.6}, "y": {"datum": -1.53, "type": "quantitative", "axis": null}}},
{"data": {"values": [{}]}, "mark": {"type": "tick", "orient": "horizontal", "size": 46, "thickness": 13, "color": "#eef0f2", "stroke": "#7b8d97", "strokeWidth": 1},
 "encoding": {"x": {"datum": 221.6, "type": "quantitative", "axis": null}, "y": {"datum": -0.5, "type": "quantitative", "axis": null}}},
{"data": {"values": [{}]}, "mark": {"type": "text", "text": "-1,5300", "align": "center", "baseline": "middle", "fontSize": 12, "color": "#111111"},
 "encoding": {"x": {"datum": 221.6, "type": "quantitative", "axis": null}, "y": {"datum": -0.5, "type": "quantitative", "axis": null}}},
{"data": {"values": [{}]}, "mark": {"type": "rule", "color": "#333333", "strokeWidth": 1},
 "encoding": {"x": {"datum": 215.48, "type": "quantitative", "axis": null}, "x2": {"datum": 216.53}, "y": {"datum": -20, "type": "quantitative", "axis": null}}},
{"data": {"values": [{}]}, "mark": {"type": "text", "text": "-20", "align": "left", "baseline": "middle", "fontSize": 12, "color": "#222222"},
 "encoding": {"x": {"datum": 216.95, "type": "quantitative", "axis": null}, "y": {"datum": -20, "type": "quantitative", "axis": null}}}
]
},
{
"width": 1200, "height": 15,
"layer": [
{"data": {"values": [{}]}, "mark": {"type": "rect", "fill": "transparent", "stroke": "#7b8d97", "strokeWidth": 1},
 "encoding": {"x": {"datum": -21.87, "type": "quantitative", "scale": {"domain": [-21.97, 229.08], "nice": false, "zero": false}, "axis": null}, "x2": {"datum": 215.48},
  "y": {"datum": 0.97, "type": "quantitative", "scale": {"domain": [0, 1], "nice": false, "zero": false}, "axis": null}, "y2": {"datum": 0.0}}},
{"data": {"values": [{}]}, "mark": {"type": "rect", "color": "#ffffff", "stroke": "#000000", "strokeWidth": 1},
 "encoding": {"x": {"datum": 37.9, "type": "quantitative", "axis": null}, "x2": {"datum": 156.1}, "y": {"datum": 0.97, "type": "quantitative", "axis": null}, "y2": {"datum": 0.0}}},
{"data": {"values": [{}]}, "mark": {"type": "text", "text": "Mit einem zusätzlichen Abonnement verfügbar. Bei Fragen setzen Sie sich bitte mit uns in Verbindung.", "align": "center", "baseline": "middle", "fontSize": 12, "color": "#111111"},
 "encoding": {"x": {"datum": 97.0, "type": "quantitative", "axis": null}, "y": {"datum": 0.5, "type": "quantitative", "axis": null}}},
{"data": {"name": "months"}, "mark": {"type": "rule", "color": "#7b8d97", "strokeWidth": 1},
 "encoding": {"x": {"field": "i", "type": "quantitative", "axis": null}, "y": {"datum": 0, "type": "quantitative", "axis": null}, "y2": {"datum": -0.27}}},
{"data": {"name": "months"}, "mark": {"type": "text", "align": "center", "baseline": "middle", "fontSize": 12, "color": "#222222"},
 "encoding": {"x": {"field": "i", "type": "quantitative", "axis": null}, "y": {"datum": -0.8, "type": "quantitative", "axis": null}, "text": {"field": "m"},
  "fontWeight": {"condition": {"test": "datum.m == '2017'", "value": "bold"}, "value": "normal"}}},
{"data": {"values": [{}]}, "mark": {"type": "rule", "color": "#7b8d97", "strokeWidth": 1},
 "encoding": {"x": {"datum": -21.87, "type": "quantitative", "axis": null}, "x2": {"datum": 228.5}, "y": {"datum": -1.33, "type": "quantitative", "axis": null}}}
]
}
]
}
